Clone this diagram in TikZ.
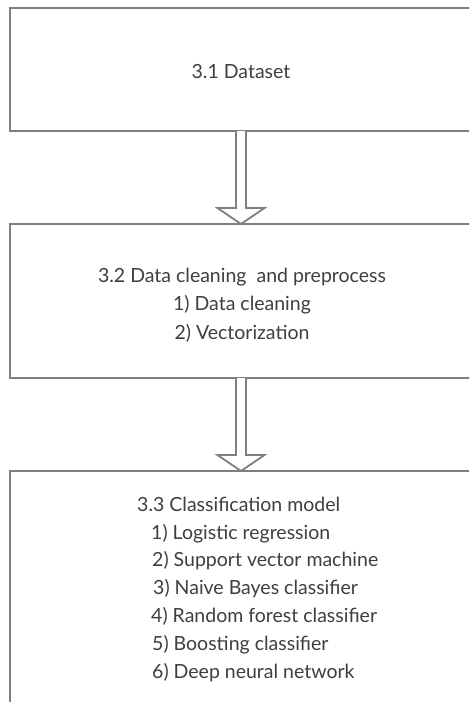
\documentclass[tikz,border=0pt]{standalone}
\usepackage{fontspec}
\setmainfont{Lato}
\usetikzlibrary{calc}
\definecolor{linegray}{HTML}{7F7F7F}
\definecolor{textgray}{HTML}{3F3F3F}
\tikzset{
  stagebox/.style={draw=linegray, line width=2pt, fill=white, outer sep=0pt, inner sep=0pt, minimum width=462pt},
  lbl/.style={text=textgray, font=\fontsize{19.5}{28.5}\selectfont, inner sep=0pt},
  blockarrow/.style={draw=linegray, line width=1.8pt, fill=white, line join=miter}
}
\begin{document}
\begin{tikzpicture}[x=1pt,y=-1pt]
\useasboundingbox (0,0) rectangle (469,702);
\clip (0,0) rectangle (469,702);
\fill[white] (0,0) rectangle (469,702);
% boxes
\node[stagebox, minimum height=123pt] (b1) at (241,69.5) {};
\node[stagebox, minimum height=154pt] (b2) at (241,301) {};
\node[stagebox, minimum height=232.5pt] (b3) at (241,587.25) {};
% texts
\node[lbl] (t1) at (241,72) {3.1 Dataset};
\node[lbl, align=center] (t2) at (242,305) {3.2 Data cleaning\ \ and preprocess\\1) Data cleaning\\2) Vectorization};
\node[lbl, anchor=base west] (t3) at (137,511) {3.3 Classification model};
\node[lbl, anchor=base west] (i1) at (151,539) {1) Logistic regression};
\node[lbl, anchor=base west] (i2) at (152,566.8) {2) Support vector machine};
\node[lbl, anchor=base west] (i3) at (153,594.6) {3) Naive Bayes classifier};
\node[lbl, anchor=base west] (i4) at (151,622.4) {4) Random forest classifier};
\node[lbl, anchor=base west] (i5) at (152,650.2) {5) Boosting classifier};
\node[lbl, anchor=base west] (i6) at (152,678) {6) Deep neural network};
% block arrows
\foreach \a/\b in {b1/b2, b2/b3}{
  \draw[blockarrow]
    ([xshift=-5pt]\a.south) -- ([xshift=-5pt,yshift=16pt]\b.north)
    -- ([xshift=-23.5pt,yshift=16pt]\b.north) -- (\b.north)
    -- ([xshift=23.5pt,yshift=16pt]\b.north) -- ([xshift=5pt,yshift=16pt]\b.north)
    -- ([xshift=5pt]\a.south);
}
\end{tikzpicture}
\end{document}
